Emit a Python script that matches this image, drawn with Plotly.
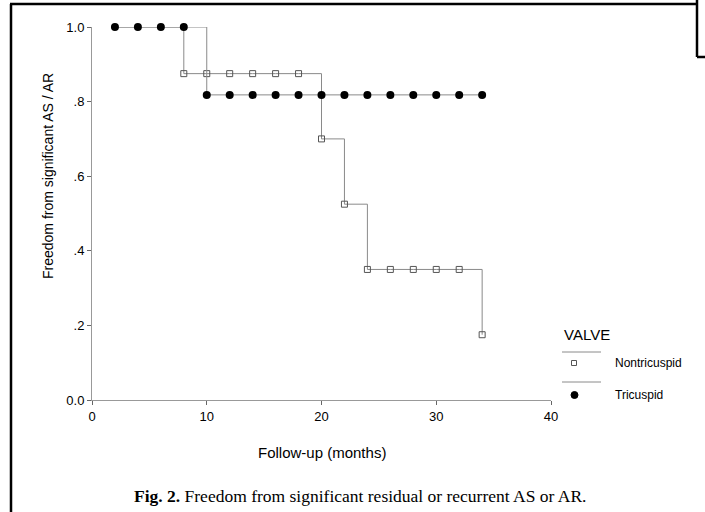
import plotly.graph_objects as go

# ---- data ----
tri_times = [2, 4, 6, 8, 10, 12, 14, 16, 18, 20, 22, 24, 26, 28, 30, 32, 34]
tri_surv = [1.0, 1.0, 1.0, 1.0, 0.818, 0.818, 0.818, 0.818, 0.818, 0.818, 0.818,
            0.818, 0.818, 0.818, 0.818, 0.818, 0.818]

non_start_time = [2]
non_start_surv = [1.0]
non_times = [8, 10, 12, 14, 16, 18, 20, 22, 24, 26, 28, 30, 32, 34]
non_surv = [0.875, 0.875, 0.875, 0.875, 0.875, 0.875, 0.70, 0.525,
            0.35, 0.35, 0.35, 0.35, 0.35, 0.175]

x_ticks = [0, 10, 20, 30, 40]
y_ticks = [0.0, 0.2, 0.4, 0.6, 0.8, 1.0]
y_tick_text = ["0.0", ".2", ".4", ".6", ".8", "1.0"]

W, H = 705, 512
def px(x):
    return x / W
def py(y):
    return 1 - y / H

LINE_GREY = "#8a8a8a"
FONT = "Liberation Sans, Arial, sans-serif"

fig = go.Figure()

# Nontricuspid step line + open square markers
fig.add_trace(go.Scatter(
    x=non_start_time + non_times, y=non_start_surv + non_surv,
    mode="lines", line=dict(shape="hv", color=LINE_GREY, width=1),
    showlegend=False, hoverinfo="skip", cliponaxis=False))
fig.add_trace(go.Scatter(
    x=non_times, y=non_surv, mode="markers", name="Nontricuspid",
    marker=dict(symbol="square-open", size=6, color="#555555", line=dict(width=1)),
    showlegend=False, cliponaxis=False))

# Tricuspid step line + filled circles
fig.add_trace(go.Scatter(
    x=tri_times, y=tri_surv, mode="lines",
    line=dict(shape="hv", color=LINE_GREY, width=1),
    showlegend=False, hoverinfo="skip", cliponaxis=False))
fig.add_trace(go.Scatter(
    x=tri_times, y=tri_surv, mode="markers", name="Tricuspid",
    marker=dict(symbol="circle", size=8, color="black"),
    showlegend=False, cliponaxis=False))

shapes = []
# page border pieces
shapes.append(dict(type="line", xref="paper", yref="paper", x0=px(11), x1=px(11), y0=0, y1=py(4),
                   line=dict(color="black", width=2.5)))
shapes.append(dict(type="line", xref="paper", yref="paper", x0=px(10), x1=px(697), y0=py(4), y1=py(4),
                   line=dict(color="black", width=2.5)))
shapes.append(dict(type="line", xref="paper", yref="paper", x0=px(697), x1=px(697), y0=1, y1=py(57),
                   line=dict(color="black", width=2.5)))
shapes.append(dict(type="line", xref="paper", yref="paper", x0=px(697), x1=1, y0=py(57), y1=py(57),
                   line=dict(color="black", width=2.5)))
# legend pieces
shapes.append(dict(type="line", xref="paper", yref="paper", x0=px(562), x1=px(601), y0=py(352), y1=py(352),
                   line=dict(color=LINE_GREY, width=1)))
shapes.append(dict(type="line", xref="paper", yref="paper", x0=px(562), x1=px(601), y0=py(382), y1=py(382),
                   line=dict(color=LINE_GREY, width=1)))
shapes.append(dict(type="rect", xref="paper", yref="paper", x0=px(571.5), x1=px(576.5), y0=py(365.5), y1=py(360.5),
                   line=dict(color="#555555", width=1), fillcolor="white"))
shapes.append(dict(type="circle", xref="paper", yref="paper", x0=px(571), x1=px(578), y0=py(398.5), y1=py(391.5),
                   line=dict(color="black", width=1), fillcolor="black"))

annotations = [
    dict(text="Freedom from significant AS / AR", xref="paper", yref="paper",
         x=px(48), y=py(176), textangle=-90, showarrow=False,
         font=dict(family=FONT, size=14, color="black"), xanchor="center", yanchor="middle"),
    dict(text="Follow-up (months)", xref="paper", yref="paper",
         x=px(322), y=py(452), showarrow=False,
         font=dict(family=FONT, size=15, color="black"), xanchor="center", yanchor="middle"),
    dict(text="<b>Fig. 2.</b> Freedom from significant residual or recurrent AS or AR.",
         xref="paper", yref="paper", x=px(360), y=py(496), showarrow=False,
         font=dict(family="Liberation Serif, Times New Roman, serif", size=17.5, color="black"),
         xanchor="center", yanchor="middle"),
    dict(text="VALVE", xref="paper", yref="paper", x=px(562), y=py(334), showarrow=False,
         font=dict(family=FONT, size=15, color="black"), xanchor="left", yanchor="middle"),
    dict(text="Nontricuspid", xref="paper", yref="paper", x=px(613), y=py(363), showarrow=False,
         font=dict(family=FONT, size=12, color="black"), xanchor="left", yanchor="middle"),
    dict(text="Tricuspid", xref="paper", yref="paper", x=px(613), y=py(395), showarrow=False,
         font=dict(family=FONT, size=12, color="black"), xanchor="left", yanchor="middle"),
]

fig.update_layout(
    template="none",
    width=W, height=H,
    margin=dict(l=0, r=0, t=0, b=0, pad=0, autoexpand=False),
    paper_bgcolor="white", plot_bgcolor="white",
    font=dict(family=FONT, color="black"),
    shapes=shapes, annotations=annotations,
    xaxis=dict(domain=[px(92), px(551)], range=[0, 40], tickvals=x_ticks, automargin=False,
               showgrid=False, zeroline=False, showline=True, linecolor="#999999", linewidth=1,
               ticks="outside", ticklen=4, tickcolor="#666666",
               tickfont=dict(family=FONT, size=13, color="black")),
    yaxis=dict(domain=[py(400), py(27)], range=[0, 1.0], tickvals=y_ticks, ticktext=y_tick_text,
               automargin=False,
               showgrid=False, zeroline=False, showline=True, linecolor="#999999", linewidth=1,
               ticks="outside", ticklen=4, tickcolor="#666666",
               tickfont=dict(family=FONT, size=13, color="black")),
)

fig.write_html(
    "out.html",
    config={"displayModeBar": False},
    post_script="document.body.style.margin='0';document.body.style.padding='0';"
                "document.body.style.overflow='hidden';",
)
